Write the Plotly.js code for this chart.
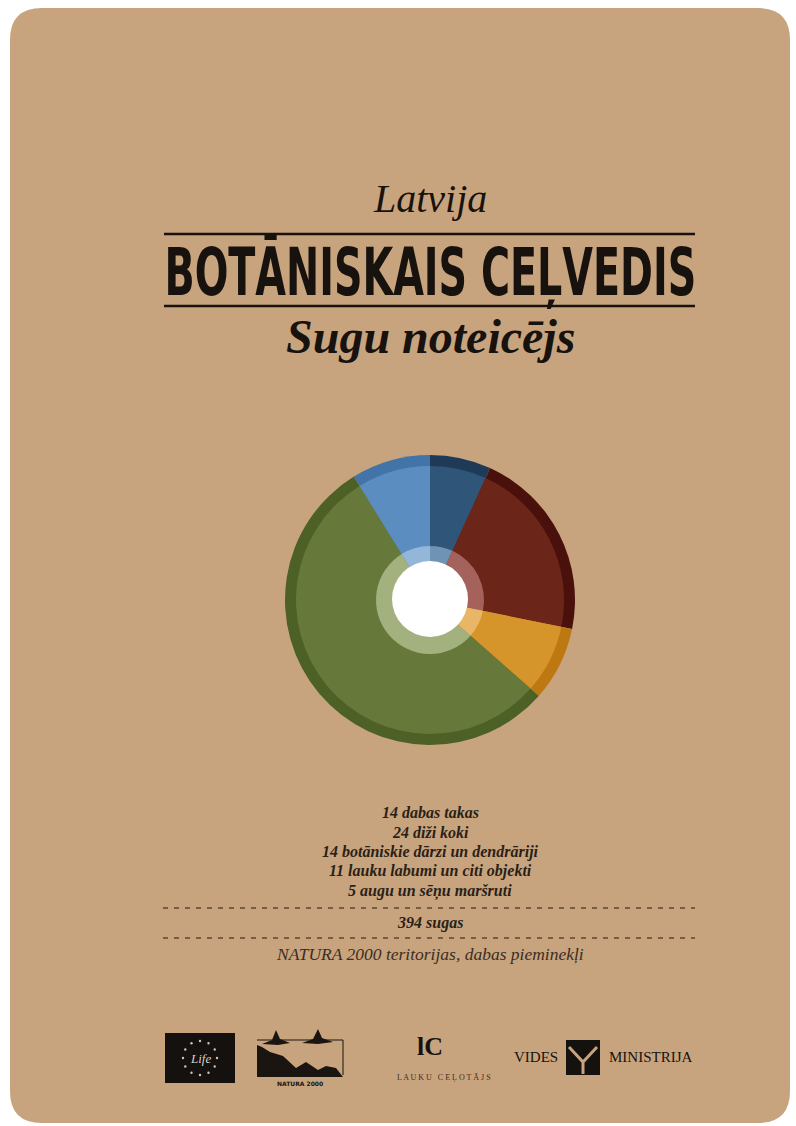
<!DOCTYPE html>
<html>
<head>
<meta charset="utf-8">
<script src="https://cdn.plot.ly/plotly-3.0.1.min.js"></script>
<style>
  html, body { margin: 0; padding: 0; background: #ffffff; }
  #chart { width: 796px; height: 1126px; }
</style>
</head>
<body>
<div id="chart"></div>
<script>
// ---- data ----
const sliceLabels = ['Tumši zilā', 'Sarkanā', 'Oranžā', 'Zaļā', 'Gaiši zilā'];
const sliceValues = [6.8, 21.4, 8.3, 54.7, 8.8];
const rimColors   = ['#1f3a57', '#4a100b', '#bd7812', '#4d6026', '#4274a8'];
const mainColors  = ['#2f5679', '#6c2519', '#d6952b', '#66793a', '#5b8dc1'];
const innerColors = ['#6f93b5', '#a5625c', '#e9b567', '#a2b17e', '#93b6d9'];

const titleTop = 'Latvija';
const titleMain = 'BOTĀNISKAIS CEĻVEDIS';
const titleSub = 'Sugu noteicējs';
const listCounts = ['14', '24', '14', '11', '5'];
const listTexts  = ['dabas takas', 'diži koki', 'botāniskie dārzi un dendrāriji', 'lauku labumi un citi objekti', 'augu un sēņu maršruti'];
const totalText = '394 sugas';
const footText = 'NATURA 2000 teritorijas, dabas pieminekļi';

// ---- layout helpers (pixel space) ----
const W = 796, H = 1126;
const cx = 430, cy = 600;
function dom(r) {
  return { x: [(cx - r) / W, (cx + r) / W], y: [1 - (cy + r) / H, 1 - (cy - r) / H] };
}

const common = {
  type: 'pie', sort: false, direction: 'clockwise', rotation: 0,
  labels: sliceLabels, values: sliceValues, textinfo: 'none',
  showlegend: false, hoverinfo: 'label+percent'
};
const traces = [
  Object.assign({}, common, { domain: dom(145), marker: { colors: rimColors, line: { width: 0 } } }),
  Object.assign({}, common, { domain: dom(134), marker: { colors: mainColors, line: { width: 0 } } }),
  Object.assign({}, common, { domain: dom(54), hole: 0.6, marker: { colors: innerColors, line: { width: 0 } } })
];

const ink = '#17120e';
const tan = '#c8a47e';
const shapes = [];
// card with rounded corners
(function () {
  const x0 = 10, y0 = 8, x1 = 790, y1 = 1123, r = 32;
  const p = `M${x0 + r},${y0} L${x1 - r},${y0} Q${x1},${y0} ${x1},${y0 + r} L${x1},${y1 - r} Q${x1},${y1} ${x1 - r},${y1} L${x0 + r},${y1} Q${x0},${y1} ${x0},${y1 - r} L${x0},${y0 + r} Q${x0},${y0} ${x0 + r},${y0} Z`;
  shapes.push({ type: 'path', xref: 'x', yref: 'y', path: p, fillcolor: tan, line: { width: 0 }, layer: 'below' });
})();
// title rules
shapes.push({ type: 'line', xref: 'x', yref: 'y', x0: 164, x1: 695, y0: 234, y1: 234, line: { color: ink, width: 2.5 }, layer: 'below' });
shapes.push({ type: 'line', xref: 'x', yref: 'y', x0: 164, x1: 695, y0: 306, y1: 306, line: { color: ink, width: 2.5 }, layer: 'below' });
// dashed rules
[908, 938].forEach(y => shapes.push({ type: 'line', xref: 'x', yref: 'y', x0: 163, x1: 695, y0: y, y1: y,
  line: { color: '#5d4634', width: 1.3, dash: '5px,6px' }, layer: 'below' }));
// white hole
shapes.push({ type: 'circle', xref: 'x', yref: 'y', x0: cx - 38, x1: cx + 38, y0: cy - 39, y1: cy + 37,
  fillcolor: '#ffffff', line: { width: 0 }, layer: 'above' });

// ---- logos ----
// EU LIFE
shapes.push({ type: 'rect', xref: 'x', yref: 'y', x0: 165, x1: 235, y0: 1033, y1: 1083, fillcolor: '#15110e', line: { width: 0 }, layer: 'below' });
for (let i = 0; i < 12; i++) {
  const a = i * Math.PI / 6;
  const sx = 200 + 17 * Math.cos(a), sy = 1058 + 17 * Math.sin(a);
  shapes.push({ type: 'circle', xref: 'x', yref: 'y', x0: sx - 1.2, x1: sx + 1.2, y0: sy - 1.2, y1: sy + 1.2, fillcolor: '#cfc6b8', line: { width: 0 }, layer: 'below' });
}
// NATURA 2000
shapes.push({ type: 'path', xref: 'x', yref: 'y', path: 'M257,1040 L343,1040 L343,1075', line: { color: ink, width: 1 }, layer: 'below' });
shapes.push({ type: 'path', xref: 'x', yref: 'y', path: 'M257,1045 L257,1077 L343,1077 L336,1068 L326,1066 L318,1070 L306,1062 L296,1068 L283,1056 L270,1052 L262,1047 Z', fillcolor: '#1a1511', line: { width: 0 }, layer: 'below' });
shapes.push({ type: 'path', xref: 'x', yref: 'y', path: 'M262,1044 L272,1040 L276,1030 L280,1039 L290,1043 L278,1045 Z', fillcolor: '#1a1511', line: { width: 0 }, layer: 'below' });
shapes.push({ type: 'path', xref: 'x', yref: 'y', path: 'M302,1043 L313,1039 L318,1029 L322,1038 L333,1042 L318,1044 Z', fillcolor: '#1a1511', line: { width: 0 }, layer: 'below' });
// VIDES logo square
shapes.push({ type: 'rect', xref: 'x', yref: 'y', x0: 566, x1: 600, y0: 1040, y1: 1075, fillcolor: '#15110e', line: { width: 0 }, layer: 'below' });
shapes.push({ type: 'path', xref: 'x', yref: 'y', path: 'M569,1047 L583,1062 L597,1047 M583,1062 L583,1074', line: { color: tan, width: 3 }, layer: 'below' });

const serif = 'Liberation Serif, DejaVu Serif, serif';
const annotations = [];
function ann(text, x, y, size, opts) {
  annotations.push(Object.assign({ xref: 'x', yref: 'y', x: x, y: y, text: text, showarrow: false,
    xanchor: 'center', yanchor: 'middle', font: { family: serif, size: size, color: ink } }, opts || {}));
}
ann('<i>' + titleTop + '</i>', cx, 198, 40);
ann('<b>' + titleMain + '</b>', cx, 272, 65, { font: { family: 'DejaVu Sans Condensed, DejaVu Sans, sans-serif', size: 65, color: ink } });
ann('<b><i>' + titleSub + '</i></b>', cx, 336, 48);
const listY = [812, 832, 852, 871, 891];
const listFont = { family: serif, size: 16, color: '#2a1f17' };
listCounts.forEach((c, i) => ann('<b><i>' + c + ' ' + listTexts[i] + '</i></b>', cx, listY[i], 16, { font: listFont }));
ann('<b><i>' + totalText + '</i></b>', cx, 923, 16, { font: listFont });
ann('<i>' + footText + '</i>', cx, 954, 17.5, { font: { family: serif, size: 17.5, color: '#3b2d22' } });
// logo texts
ann('<i>Life</i>', 200, 1058, 13, { font: { family: serif, size: 13, color: '#d8d0c2' } });
ann('<b>NATURA 2000</b>', 300, 1083, 6, { font: { family: 'DejaVu Sans, sans-serif', size: 6, color: ink } });
ann('<b>lC</b>', 430, 1046, 26, { font: { family: serif, size: 26, color: ink } });
ann('L A U K U   C E Ļ O T Ā J S', 444, 1078, 8, { font: { family: serif, size: 8, color: '#3b2d22' } });
ann('VIDES', 536, 1057, 15, { font: { family: serif, size: 15, color: ink } });
ann('MINISTRIJA', 651, 1057, 15, { font: { family: serif, size: 15, color: ink } });

const layout = {
  width: W, height: H,
  margin: { l: 0, r: 0, t: 0, b: 0 },
  paper_bgcolor: '#ffffff', plot_bgcolor: 'rgba(0,0,0,0)',
  xaxis: { range: [0, W], visible: false, fixedrange: true },
  yaxis: { range: [H, 0], visible: false, fixedrange: true },
  showlegend: false,
  shapes: shapes, annotations: annotations
};
Plotly.newPlot('chart', traces, layout, { displayModeBar: false, staticPlot: true }).then(function () {
  // condense the main title horizontally to the width of the rules
  const groups = document.querySelectorAll('#chart .annotation');
  const t = groups[1] && groups[1].querySelector('text.annotation-text');
  if (t) {
    const bb = t.getBBox();
    const s = 532 / bb.width;
    const mx = bb.x + bb.width / 2;
    t.setAttribute('transform', `translate(${mx},0) scale(${s},1) translate(${-mx},0)`);
  }
});
</script>
</body>
</html>
